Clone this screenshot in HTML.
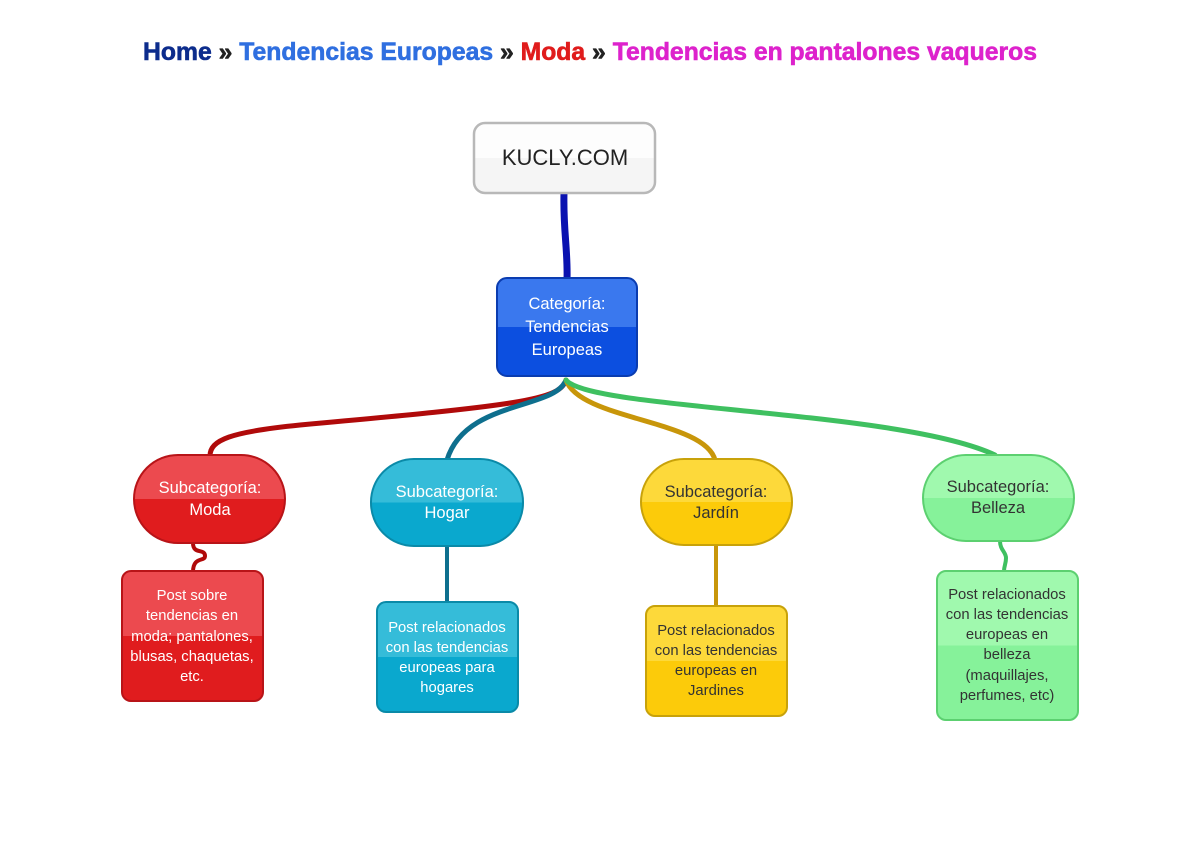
<!DOCTYPE html>
<html><head><meta charset="utf-8"><style>
body{margin:0;background:#fff}
svg{display:block}
text{font-family:"Liberation Sans",sans-serif}
.n{fill:#fff;font-size:16.5px;text-anchor:middle}
.d{fill:#333;font-size:16.5px;text-anchor:middle}
.p{font-size:14.8px}
</style></head><body>
<svg width="1200" height="843" viewBox="0 0 1200 843" xmlns="http://www.w3.org/2000/svg">
<defs>
<linearGradient id="gw" x1="0" y1="0" x2="0" y2="1"><stop offset="0.5" stop-color="#fdfdfd"/><stop offset="0.5" stop-color="#f5f5f5"/></linearGradient>
<linearGradient id="gb" x1="0" y1="0" x2="0" y2="1"><stop offset="0.5" stop-color="#3a78ee"/><stop offset="0.5" stop-color="#0c4fe0"/></linearGradient>
<linearGradient id="gr" x1="0" y1="0" x2="0" y2="1"><stop offset="0.5" stop-color="#ec4a4f"/><stop offset="0.5" stop-color="#e01c1e"/></linearGradient>
<linearGradient id="gc" x1="0" y1="0" x2="0" y2="1"><stop offset="0.5" stop-color="#35bcd9"/><stop offset="0.5" stop-color="#0aa8ce"/></linearGradient>
<linearGradient id="gy" x1="0" y1="0" x2="0" y2="1"><stop offset="0.5" stop-color="#fdd93a"/><stop offset="0.5" stop-color="#fccb0a"/></linearGradient>
<linearGradient id="gg" x1="0" y1="0" x2="0" y2="1"><stop offset="0.5" stop-color="#a0f9ae"/><stop offset="0.5" stop-color="#86f29a"/></linearGradient>
</defs>
<text x="590" y="60" text-anchor="middle" textLength="894" lengthAdjust="spacingAndGlyphs" style="font-size:25px;font-weight:bold;stroke-width:0.6" stroke="currentColor"><tspan fill="#0c2c8c" stroke="#0c2c8c">Home</tspan><tspan fill="#222" stroke="#222"> » </tspan><tspan fill="#2f6fe0" stroke="#2f6fe0">Tendencias Europeas</tspan><tspan fill="#222" stroke="#222"> » </tspan><tspan fill="#e01c1c" stroke="#e01c1c">Moda</tspan><tspan fill="#222" stroke="#222"> » </tspan><tspan fill="#dd22cc" stroke="#dd22cc">Tendencias en pantalones vaqueros</tspan></text>

<g fill="none" stroke-linecap="round">
<path d="M564,193 C563,230 568,250 567,280" stroke="#0a12b0" stroke-width="7"/>
<path d="M566,380 C560,400 520,405 300,425 C230,432 210,440 210,456" stroke="#b00a0a" stroke-width="5"/>
<path d="M566,380 C555,410 465,400 447,460" stroke="#0e6f8e" stroke-width="5"/>
<path d="M566,380 C580,420 705,420 715,460" stroke="#c8960a" stroke-width="5"/>
<path d="M566,380 C590,410 900,410 995,455" stroke="#3fc060" stroke-width="5"/>
<path d="M193,543 C193,555 205,548 205,556 C205,562 193,556 193,572" stroke="#b00a0a" stroke-width="4"/>
<path d="M447,546 C447,570 447,580 447,602" stroke="#0e6f8e" stroke-width="4"/>
<path d="M716,545 L716,606" stroke="#c8960a" stroke-width="4"/>
<path d="M1000,541 C1000,550 1006,552 1006,558 C1006,564 1004,566 1004,571" stroke="#3fc060" stroke-width="4"/>
</g>

<rect x="474" y="123" width="181" height="70" rx="11" fill="url(#gw)" stroke="#b8b8b8" stroke-width="2.5"/>
<text x="565" y="165" class="d" style="font-size:22px;fill:#222">KUCLY.COM</text>

<rect x="497" y="278" width="140" height="98" rx="10" fill="url(#gb)" stroke="#0a3cb0" stroke-width="2"/>
<text class="n" x="567" y="309">Categoría:</text>
<text class="n" x="567" y="332">Tendencias</text>
<text class="n" x="567" y="355">Europeas</text>

<rect x="134" y="455" width="151" height="88" rx="44" fill="url(#gr)" stroke="#b81418" stroke-width="2"/>
<text class="n" x="210" y="493">Subcategoría:</text><text class="n" x="210" y="515">Moda</text>
<rect x="371" y="459" width="152" height="87" rx="43" fill="url(#gc)" stroke="#0a8aa8" stroke-width="2"/>
<text class="n" x="447" y="497">Subcategoría:</text><text class="n" x="447" y="518">Hogar</text>
<rect x="641" y="459" width="151" height="86" rx="43" fill="url(#gy)" stroke="#c8a20a" stroke-width="2"/>
<text class="d" x="716" y="497">Subcategoría:</text><text class="d" x="716" y="518">Jardín</text>
<rect x="923" y="455" width="151" height="86" rx="43" fill="url(#gg)" stroke="#5cd070" stroke-width="2"/>
<text class="d" x="998" y="492">Subcategoría:</text><text class="d" x="998" y="513">Belleza</text>

<rect x="122" y="571" width="141" height="130" rx="9" fill="url(#gr)" stroke="#b81418" stroke-width="2"/>
<text class="n p" x="192" y="600">Post sobre</text><text class="n p" x="192" y="620">tendencias en</text><text class="n p" x="192" y="641">moda; pantalones,</text><text class="n p" x="192" y="661">blusas, chaquetas,</text><text class="n p" x="192" y="681">etc.</text>

<rect x="377" y="602" width="141" height="110" rx="9" fill="url(#gc)" stroke="#0a8aa8" stroke-width="2"/>
<text class="n p" x="447" y="632">Post relacionados</text><text class="n p" x="447" y="652">con las tendencias</text><text class="n p" x="447" y="672">europeas para</text><text class="n p" x="447" y="692">hogares</text>

<rect x="646" y="606" width="141" height="110" rx="9" fill="url(#gy)" stroke="#c8a20a" stroke-width="2"/>
<text class="d p" x="716" y="635">Post relacionados</text><text class="d p" x="716" y="655">con las tendencias</text><text class="d p" x="716" y="675">europeas en</text><text class="d p" x="716" y="695">Jardines</text>

<rect x="937" y="571" width="141" height="149" rx="9" fill="url(#gg)" stroke="#5cd070" stroke-width="2"/>
<text class="d p" x="1007" y="599">Post relacionados</text><text class="d p" x="1007" y="619">con las tendencias</text><text class="d p" x="1007" y="639">europeas en</text><text class="d p" x="1007" y="659">belleza</text><text class="d p" x="1007" y="680">(maquillajes,</text><text class="d p" x="1007" y="700">perfumes, etc)</text>
</svg>
</body></html>
